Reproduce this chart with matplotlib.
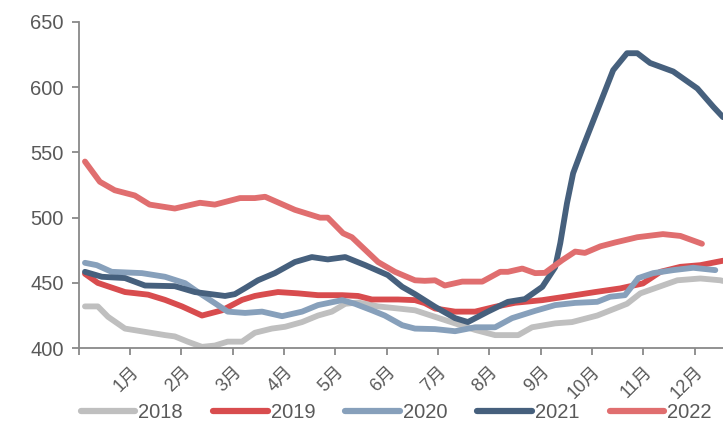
import matplotlib
matplotlib.use("Agg")
import matplotlib.pyplot as plt

plt.rcParams['font.family'] = ['Liberation Sans', 'Noto Sans CJK SC', 'DejaVu Sans']

# x positions are in months from the start of the year
months = ['1月', '2月', '3月', '4月', '5月', '6月', '7月', '8月', '9月', '10月', '11月', '12月']

x2018 = [0.12, 0.37, 0.57, 0.90, 1.29, 1.68, 1.87, 2.12, 2.40, 2.65, 2.90, 3.18, 3.43,
         3.76, 4.02, 4.35, 4.66, 4.93, 5.19, 5.44, 5.83, 6.22, 6.55, 6.94, 7.33, 7.72,
         8.11, 8.56, 8.83, 9.28, 9.61, 10.10, 10.68, 10.94, 11.66, 12.11, 12.50, 12.55]
y2018 = [432, 432, 424, 415, 412.5, 410, 409, 405, 401, 402, 405, 405, 411.8,
         415, 416.4, 420, 425, 428, 434, 435, 432, 430.4, 429, 424, 419, 414,
         410, 410, 416, 419, 420, 425, 434, 442, 452, 453.4, 452, 451.5]

x2019 = [0.12, 0.37, 0.90, 1.35, 1.68, 2.01, 2.40, 2.79, 3.18, 3.43, 3.57, 3.88, 4.27,
         4.66, 5.13, 5.44, 5.71, 6.22, 6.55, 6.74, 6.94, 7.33, 7.72, 8.11, 8.50, 9.03,
         9.47, 10.06, 10.55, 10.99, 11.33, 11.72, 12.11, 12.55]
y2019 = [457, 450, 443, 441, 437, 432, 425, 429, 437, 440, 441, 443, 442,
         440.6, 440.6, 440, 437.3, 437.3, 436.8, 434.5, 430.4, 428, 428, 431.7, 434.8, 436.8,
         439.4, 443, 445.8, 449.6, 458.5, 462.3, 463.6, 467]

x2020 = [0.12, 0.35, 0.64, 1.23, 1.68, 2.07, 2.32, 2.65, 2.90, 3.24, 3.57, 3.96, 4.35,
         4.66, 5.13, 5.38, 5.71, 5.96, 6.30, 6.55, 6.94, 7.33, 7.72, 8.11, 8.44, 8.89,
         9.28, 9.67, 10.10, 10.35, 10.64, 10.90, 11.19, 11.58, 11.97, 12.40]
y2020 = [465.4, 463.6, 458.5, 457.5, 454.7, 449.8, 443, 434.5, 428, 427, 428, 424.5, 428,
         433, 436.8, 434, 429, 425, 417.6, 415, 414.6, 413, 416, 416, 423, 428.6,
         433, 434.7, 435.5, 439.4, 440.6, 453.7, 457.5, 459.8, 461.6, 459.8]

x2021 = [0.12, 0.45, 0.90, 1.29, 1.87, 2.26, 2.85, 3.04, 3.24, 3.49, 3.82, 4.21, 4.54,
         4.85, 5.19, 5.58, 6.02, 6.30, 6.55, 6.94, 7.33, 7.58, 7.97, 8.36, 8.69, 9.03,
         9.28, 9.38, 9.51, 9.63, 9.82, 10.16, 10.41, 10.68, 10.88, 11.13, 11.58, 12.05,
         12.36, 12.55]
y2021 = [458.5, 454.7, 453.7, 448, 447.5, 443, 440, 441.4, 446, 452, 457.5, 466, 469.8,
         468, 469.8, 463.6, 456, 447, 441.4, 431.7, 423, 420, 428, 435.5, 437.6, 447,
         462, 480.5, 511, 534, 554, 588, 613, 626, 626, 618.5, 612, 599,
         585, 577]

x2022 = [0.12, 0.41, 0.70, 1.09, 1.38, 1.87, 2.36, 2.65, 3.14, 3.43, 3.63, 4.21, 4.70,
         4.85, 5.15, 5.32, 5.83, 6.16, 6.55, 6.74, 6.94, 7.13, 7.47, 7.86, 8.21, 8.36,
         8.64, 8.89, 9.08, 9.42, 9.67, 9.86, 10.16, 10.45, 10.88, 11.38, 11.72, 12.14]
y2022 = [543, 527.5, 521, 517, 510, 507, 511.4, 510, 515, 515, 516, 506, 500,
         500, 488, 485, 466, 458.5, 452, 451.6, 452, 448, 451, 451, 458.5, 458.5,
         461, 457.5, 457.7, 467.5, 474, 473, 478, 481, 485, 487.4, 486, 480]

series = [
    ('2018', x2018, y2018, '#BFBFBF'),
    ('2019', x2019, y2019, '#D84C4E'),
    ('2020', x2020, y2020, '#87A0BB'),
    ('2021', x2021, y2021, '#46607D'),
    ('2022', x2022, y2022, '#E06E6F'),
]

fig = plt.figure(figsize=(7.23, 4.21), dpi=100)
ax = fig.add_axes([0.109, 0.173, 0.891, 0.775])

for name, xs, ys, col in series:
    ax.plot(xs, ys, color=col, lw=4.2, label=name, solid_capstyle='round',
            solid_joinstyle='round')

ax.set_xlim(0, 12.55)
ax.set_ylim(400, 650)
ax.set_yticks(range(400, 651, 50))
ax.set_xticks(range(0, 13))
ax.set_xticklabels([''] + months, rotation=45, ha='right', va='top',
                   fontsize=13, color='#595959', rotation_mode='anchor')
ax.tick_params(axis='x', length=5, width=1.3, color='#898989', pad=6)
ax.tick_params(axis='y', length=5, width=1.3, color='#898989', labelsize=14.5,
               labelcolor='#595959', pad=6)

for s in ['top', 'right']:
    ax.spines[s].set_visible(False)
for s in ['left', 'bottom']:
    ax.spines[s].set_color('#898989')
    ax.spines[s].set_linewidth(1.3)

leg = fig.legend(loc='center', bbox_to_anchor=(0.548, 0.02), ncol=5, frameon=False,
                 fontsize=14.5, handlelength=2.7, handletextpad=0.15,
                 columnspacing=1.5, borderpad=0)
for t in leg.get_texts():
    t.set_color('#595959')
for h in leg.get_lines():
    h.set_linewidth(4.5)

fig.savefig('out.png', dpi=100)
